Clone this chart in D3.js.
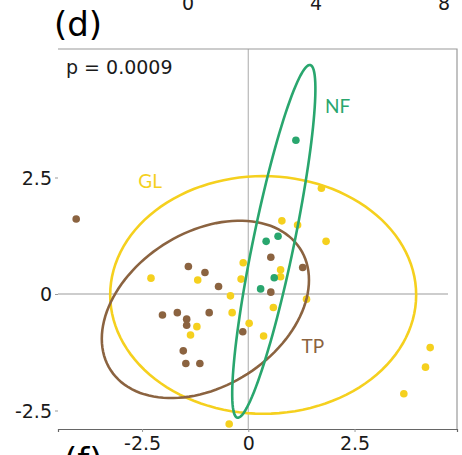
<!DOCTYPE html>
<html>
<head>
<meta charset="utf-8">
<script src="https://cdn.jsdelivr.net/npm/d3@7"></script>
<style>
  body { margin: 0; background: #fff; }
  svg { display: block; }
</style>
</head>
<body>
<div id="chart"></div>
<script>

// group names and colours
var groups = ["GL", "NF", "TP"];
var groupColors = { "GL": "#F5D01E", "NF": "#29A66E", "TP": "#8B6340" };

// PCA scores, [PC1, PC2]
var glPoints = [
    [-2.29, 0.34], [-1.19, 0.30], [-0.12, 0.67], [-0.17, 0.32], [-0.42, -0.04],
    [-0.38, -0.40], [0.02, -0.63], [-1.21, -0.70], [-1.36, -0.88], [0.36, -0.90],
    [0.59, -0.29], [1.72, 2.27], [0.79, 1.57], [1.16, 1.48], [1.83, 1.13],
    [0.76, 0.52], [0.76, 0.37], [1.37, -0.11], [4.28, -1.15], [4.17, -1.57],
    [3.66, -2.14], [-0.45, -2.79]
];
var nfPoints = [
    [1.12, 3.30], [0.42, 1.13], [0.70, 1.24], [0.61, 0.35], [0.29, 0.11]
];
var tpPoints = [
    [-4.05, 1.61], [-1.41, 0.59], [-1.02, 0.46], [-0.70, 0.16], [-2.02, -0.45],
    [-1.67, -0.40], [-0.92, -0.40], [-1.45, -0.54], [-1.45, -0.67], [-1.53, -1.22],
    [-1.47, -1.49], [-1.14, -1.49], [-0.13, -0.81], [0.53, 0.79], [0.53, 0.04],
    [1.28, 0.57]
];

// 95% ellipses: centre, semi-axes, rotation (deg)
var ellipseGroups = ["GL", "TP", "NF"];
var ellipseCx = [0.35, -1.01, 0.60];
var ellipseCy = [-0.02, -0.33, 1.13];
var ellipseRx = [3.60, 2.59, 3.88];
var ellipseRy = [2.55, 1.69, 0.48];
var ellipseAngle = [0, 26.5, 77.2];

// label positions
var labelText = ["GL", "NF", "TP"];
var labelX = [-2.31, 2.10, 1.52];
var labelY = [2.43, 4.03, -1.12];

var xTicks = [-2.5, 0, 2.5];
var yTicks = [-2.5, 0, 2.5];
var topTickLabels = ["0", "4", "8"];
var pText = "p = 0.0009";


PcaPlot = function(_parentElement){
    this.parentElement = _parentElement;
    this.initVis();
}

PcaPlot.prototype.initVis = function(){
    var vis = this;

    vis.margin = { top: 49, right: 5, bottom: 26, left: 58 };
    vis.width = 462 - vis.margin.left - vis.margin.right;
    vis.height = 455 - vis.margin.top - vis.margin.bottom;

    vis.root = d3.select("#" + vis.parentElement).append("svg")
        .attr("width", 462)
        .attr("height", 455);

    vis.svg = vis.root.append("g")
        .attr("transform", "translate(" + vis.margin.left + "," + vis.margin.top + ")");

    vis.x = d3.scaleLinear()
        .domain([-4.478, 4.911])
        .range([0, vis.width]);

    vis.y = d3.scaleLinear()
        .domain([-2.897, 5.258])
        .range([vis.height, 0]);

    vis.wrangleData();
}

PcaPlot.prototype.wrangleData = function(){
    var vis = this;

    vis.points = [];
    glPoints.forEach(function(p){ vis.points.push({ g: "GL", x: p[0], y: p[1] }); });
    tpPoints.forEach(function(p){ vis.points.push({ g: "TP", x: p[0], y: p[1] }); });
    nfPoints.forEach(function(p){ vis.points.push({ g: "NF", x: p[0], y: p[1] }); });

    // trace each ellipse outline in data space
    vis.ellipses = ellipseGroups.map(function(g, i){
        var a = ellipseAngle[i] * Math.PI / 180;
        var pts = d3.range(0, 120).map(function(k){
            var t = k / 120 * 2 * Math.PI;
            return [
                ellipseCx[i] + ellipseRx[i] * Math.cos(a) * Math.cos(t) - ellipseRy[i] * Math.sin(a) * Math.sin(t),
                ellipseCy[i] + ellipseRx[i] * Math.sin(a) * Math.cos(t) + ellipseRy[i] * Math.cos(a) * Math.sin(t)
            ];
        });
        return { g: g, pts: pts };
    });

    vis.updateVis();
}

PcaPlot.prototype.updateVis = function(){
    var vis = this;

    // plain hyphen for negatives, like the original
    var fmt = function(d){ return d === 0 ? "0" : (d < 0 ? "-" : "") + Math.abs(d).toFixed(1); };

    // zero lines
    vis.svg.append("line")
        .attr("x1", vis.x(0)).attr("x2", vis.x(0))
        .attr("y1", 0).attr("y2", vis.height)
        .attr("stroke", "#bdbdbd").attr("stroke-width", 1.3);
    vis.svg.append("line")
        .attr("x1", 0).attr("x2", vis.x(4.7))
        .attr("y1", vis.y(0)).attr("y2", vis.y(0))
        .attr("stroke", "#bdbdbd").attr("stroke-width", 1.3);

    // frame: top + right border
    vis.svg.append("path")
        .attr("d", "M0,0H" + vis.width + "V" + vis.height)
        .attr("fill", "none")
        .attr("stroke", "#9a9a9a")
        .attr("stroke-width", 1.2);

    // axes
    var xAxis = vis.svg.append("g")
        .attr("transform", "translate(0," + vis.height + ")")
        .call(d3.axisBottom(vis.x).tickValues(xTicks).tickSize(3).tickPadding(4).tickFormat(fmt));
    xAxis.select(".domain").attr("stroke", "#666").attr("stroke-width", 1.2);

    var yAxis = vis.svg.append("g")
        .call(d3.axisLeft(vis.y).tickValues(yTicks).tickSize(3).tickPadding(3).tickFormat(fmt));
    yAxis.select(".domain").remove();

    vis.svg.selectAll(".tick line").attr("stroke", "#999");
    vis.svg.selectAll(".tick text")
        .attr("fill", "#1a1a1a")
        .style("font-family", "DejaVu Sans")
        .style("font-size", "19px");
    yAxis.selectAll(".tick text").attr("dy", "0.36em");
    xAxis.selectAll(".tick text").attr("dy", "0.73em");

    // points
    vis.svg.selectAll(".pt")
        .data(vis.points)
        .enter()
        .append("circle")
        .attr("class", "pt")
        .attr("cx", function(d){ return vis.x(d.x); })
        .attr("cy", function(d){ return vis.y(d.y); })
        .attr("r", 3.8)
        .attr("fill", function(d){ return groupColors[d.g]; });

    // ellipses
    var line = d3.line()
        .x(function(d){ return vis.x(d[0]); })
        .y(function(d){ return vis.y(d[1]); })
        .curve(d3.curveLinearClosed);

    vis.svg.selectAll(".ell")
        .data(vis.ellipses)
        .enter()
        .append("path")
        .attr("class", "ell")
        .attr("d", function(d){ return line(d.pts); })
        .attr("fill", "none")
        .attr("stroke", function(d){ return groupColors[d.g]; })
        .attr("stroke-width", 2.6);

    // group labels
    vis.svg.selectAll(".lab")
        .data(labelText)
        .enter()
        .append("text")
        .attr("class", "lab")
        .attr("x", function(d, i){ return vis.x(labelX[i]); })
        .attr("y", function(d, i){ return vis.y(labelY[i]); })
        .attr("text-anchor", "middle")
        .attr("dy", "0.36em")
        .attr("fill", function(d){ return groupColors[d]; })
        .style("font-family", "Lato")
        .style("font-size", "19px")
        .text(function(d){ return d; });

    // p value
    vis.svg.append("text")
        .attr("x", 8)
        .attr("y", 25)
        .attr("fill", "#1a1a1a")
        .style("font-family", "DejaVu Sans")
        .style("font-size", "19px")
        .text(pText);

    // panel tags and bits of neighbouring panels (cut by the frame, as in the original)
    vis.root.append("text")
        .attr("x", 54).attr("y", 36)
        .style("font-family", "DejaVu Sans")
        .style("font-size", "34px")
        .text("(d)");
    vis.root.append("text")
        .attr("x", 64).attr("y", 472)
        .style("font-family", "DejaVu Sans")
        .style("font-size", "34px")
        .text("(f)");

    vis.root.selectAll(".toptick")
        .data(topTickLabels)
        .enter()
        .append("text")
        .attr("class", "toptick")
        .attr("x", function(d, i){ return 188 + i * 128; })
        .attr("y", 10)
        .attr("text-anchor", "middle")
        .attr("fill", "#1a1a1a")
        .style("font-family", "DejaVu Sans")
        .style("font-size", "19px")
        .text(function(d){ return d; });
}

new PcaPlot("chart");

</script>
</body>
</html>
